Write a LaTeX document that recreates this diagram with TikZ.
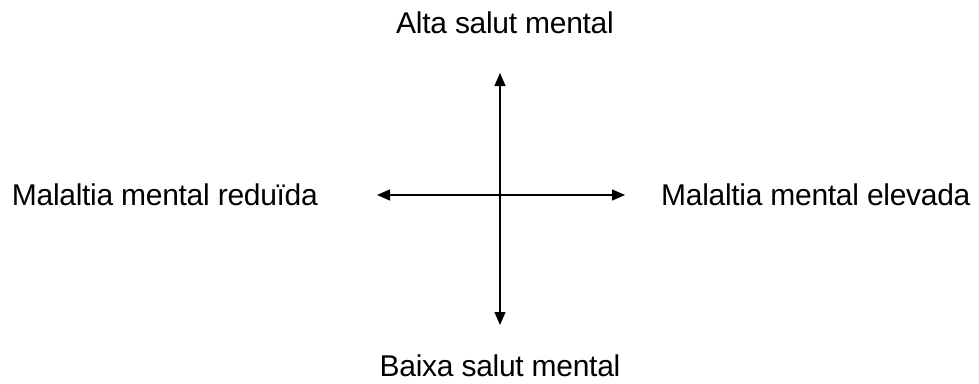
\documentclass[tikz,border=0pt]{standalone}
\usepackage{fontspec}
\setmainfont{Liberation Sans}[LetterSpace=-1]
\usetikzlibrary{arrows.meta}
\begin{document}
\begin{tikzpicture}[x=1pt,y=-1pt,
  label/.style={inner sep=0pt,font=\fontsize{30}{35}\selectfont},
  axis/.style={line width=1.2pt,{Triangle[length=13pt,width=11pt]}-{Triangle[length=13pt,width=11pt]}}]
  \useasboundingbox (0,0) rectangle (979,383);
  % axis end points
  \coordinate (top) at (500,73);
  \coordinate (bottom) at (500,325);
  \coordinate (left) at (377,195);
  \coordinate (right) at (625,195);
  % the two axes
  \draw[axis] (bottom) -- (top);
  \draw[axis] (left) -- (right);
  % labels
  \node[label,anchor=base] (high) at (505,33) {Alta salut mental};
  \node[label,anchor=base] (low) at (500,376) {Baixa salut mental};
  \node[label,anchor=base east] (reduced) at (318,205) {Malaltia mental reduïda};
  \node[label,anchor=base west] (raised) at (661,205) {Malaltia mental elevada};
\end{tikzpicture}
\end{document}
